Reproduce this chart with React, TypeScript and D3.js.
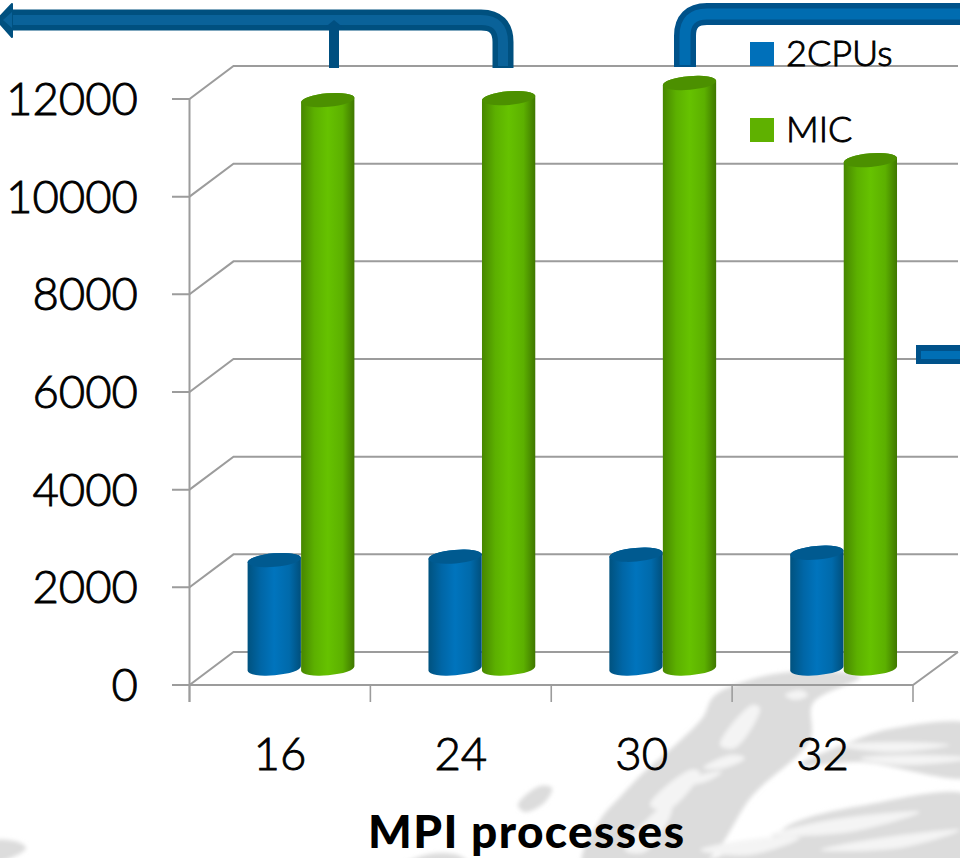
import React from "react";
import * as d3 from "d3";

// Chart values
const categories = ["16", "24", "30", "32"];
const seriesNames = ["2CPUs", "MIC"];
const cpuValues = [2220, 2290, 2330, 2370];
const micValues = [11640, 11680, 11990, 10410];
const yTicks = [0, 2000, 4000, 6000, 8000, 10000, 12000];

const WIDTH = 960;
const HEIGHT = 858;
const FONT = "Lato, 'Open Sans', sans-serif";
const AXIS = "#9c9c9c";

// Oblique offset from the front axes to the back wall
const DEPTH_X = 44;
const DEPTH_Y = -33;

const x = d3.scaleBand<string>().domain(categories).range([189.5, 913]);
const y = d3.scaleLinear().domain([0, 12000]).range([685, 99]);
// Columns stand halfway along the floor depth
const yBar = d3.scaleLinear().domain([0, 12000]).range([668.5, 82.5]);
const inner = d3.scaleBand<string>().domain(seriesNames).range([58, 165]);

const TILT = -5;
const RY = 6.8;

function cylinder(cx: number, rx: number, top: number, bottom: number) {
  const dx = rx * Math.cos((TILT * Math.PI) / 180);
  const dy = rx * Math.sin((TILT * Math.PI) / 180);
  const body = d3.path();
  body.moveTo(cx - dx, top - dy);
  body.lineTo(cx - dx, bottom - dy);
  const arc = `A${rx} ${RY} ${TILT} 0 0 ${cx + dx} ${bottom + dy}`;
  const rest = `L${cx + dx} ${top + dy}A${rx} ${RY} ${TILT} 0 0 ${cx - dx} ${top - dy}Z`;
  return `${body.toString()}${arc}${rest}`;
}

// Faint grey brush-stroke artwork behind the chart
const blob = d3
  .line<[number, number]>()
  .curve(d3.curveCatmullRomClosed.alpha(0.5));

const washShapes: [number, number][][] = [
  [[860, 677], [790, 672], [740, 683], [713, 697], [703, 717], [673, 747], [643, 773], [620, 797], [600, 820], [583, 865], [700, 865], [753, 795], [810, 740], [813, 703]],
  [[975, 727], [890, 729], [850, 742], [800, 765], [860, 762], [975, 775]],
  [[793, 823], [860, 806], [975, 798], [975, 870], [690, 870], [770, 838]],
  [[518, 805], [540, 786], [552, 788], [545, 802], [525, 812]],
  [[-10, 842], [18, 842], [26, 848], [15, 856], [-10, 862]],
  [[400, 866], [430, 854], [460, 856], [470, 866]],
];
const washHighlights: [number, number][][] = [
  [[683, 785], [700, 775], [722, 772], [705, 782]],
  [[703, 768], [730, 755], [745, 758], [725, 768]],
  [[785, 695], [800, 690], [808, 695], [795, 700]],
  [[650, 805], [690, 770], [700, 772], [668, 810]],
  [[625, 850], [665, 805], [672, 808], [645, 852]],
  [[720, 745], [752, 705], [760, 708], [735, 748]],
  [[770, 835], [830, 820], [920, 812], [850, 832]],
  [[835, 745], [900, 742], [950, 745], [890, 752]],
  [[860, 758], [910, 755], [975, 758], [900, 765]],
  [[700, 850], [760, 838], [800, 838], [750, 855]],
  [[820, 850], [880, 838], [960, 830], [900, 848]],
];

const textStyle = { fontWeight: 300, stroke: "#000", strokeWidth: 0.9 };

export default function App() {
  const rx = inner.bandwidth() / 2;
  const values = [cpuValues, micValues];
  const bandX = (c: string) => x(c) as number;

  return (
    <svg
      width={WIDTH}
      height={HEIGHT}
      viewBox={`0 0 ${WIDTH} ${HEIGHT}`}
      style={{ position: "fixed", left: 0, top: 0, background: "#fff" }}
      fontFamily={FONT}
    >
      <defs>
        <linearGradient id="cyl-0" x1="0" x2="1" y1="0" y2="0">
          <stop offset="0" stopColor="#00527f" />
          <stop offset="0.25" stopColor="#0066a6" />
          <stop offset="0.5" stopColor="#0074bd" />
          <stop offset="0.78" stopColor="#006aab" />
          <stop offset="1" stopColor="#004f7c" />
        </linearGradient>
        <linearGradient id="cyl-1" x1="0" x2="1" y1="0" y2="0">
          <stop offset="0" stopColor="#478600" />
          <stop offset="0.25" stopColor="#5cb000" />
          <stop offset="0.5" stopColor="#66c200" />
          <stop offset="0.78" stopColor="#5cb000" />
          <stop offset="1" stopColor="#3f7700" />
        </linearGradient>
        <filter id="soft" x="-10%" y="-10%" width="120%" height="120%">
          <feGaussianBlur stdDeviation="2" />
        </filter>
      </defs>

      <g filter="url(#soft)">
        {washShapes.map((s, i) => (
          <path key={i} d={blob(s) ?? ""} fill="#dcdcdc" />
        ))}
        {washHighlights.map((s, i) => (
          <path key={i} d={blob(s) ?? ""} fill="#f4f4f4" />
        ))}
      </g>

      {/* Gridlines running across the left wall and the back wall */}
      <g fill="none" stroke={AXIS} strokeWidth={2}>
        {yTicks.map((t) => (
          <path
            key={t}
            d={`M172 ${y(t)}H189.5L${189.5 + DEPTH_X} ${y(t) + DEPTH_Y}H958`}
          />
        ))}
        <path d={`M189.5 ${y(12000)}V702`} />
        <path d={`M189.5 ${y(0)}H913L958 ${y(0) + DEPTH_Y}`} />
        {[...categories.map(bandX), x.range()[1]].map((v) => (
          <path key={v} d={`M${v} ${y(0)}V702`} strokeWidth={1.6} />
        ))}
      </g>

      {/* Axis labels */}
      <g fontSize={45.5} fill="#000" textAnchor="end" style={textStyle}>
        {yTicks.map((t) => (
          <text key={t} x={138} y={y(t) + 16}>
            {t}
          </text>
        ))}
      </g>
      <g fontSize={45.5} fill="#000" textAnchor="middle" style={textStyle}>
        {categories.map((c) => (
          <text key={c} x={bandX(c) + x.bandwidth() / 2} y={770}>
            {c}
          </text>
        ))}
      </g>
      <text x={526} y={848} fontSize={46} fontWeight={900} textAnchor="middle" fill="#000" textLength={316} lengthAdjust="spacing">
        MPI processes
      </text>

      {/* Columns, blue first so that the green one overlaps it */}
      {categories.map((c, ci) => (
        <g key={c}>
          {seriesNames.map((s, si) => {
            const cx = bandX(c) + (inner(s) as number) + rx;
            const top = yBar(values[si][ci]);
            const bottom = yBar(0);
            return (
              <g key={s}>
                <path d={cylinder(cx, rx, top, bottom)} fill={`url(#cyl-${si})`} />
                <ellipse
                  cx={cx}
                  cy={top}
                  rx={rx}
                  ry={RY}
                  transform={`rotate(${TILT} ${cx} ${top})`}
                  fill={si === 0 ? "#005a90" : "#4c9000"}
                />
              </g>
            );
          })}
        </g>
      ))}

      {/* Legend */}
      <rect x={750} y={42} width={24} height={24} fill="#0070ba" />
      <text x={786} y={66} fontSize={36} fill="#000" style={textStyle}>{seriesNames[0]}</text>
      <rect x={750} y={118} width={24} height={24} fill="#5fb100" />
      <text x={786} y={142} fontSize={36} fill="#000" style={textStyle}>{seriesNames[1]}</text>

      {/* Callout connectors above and beside the plot */}
      <g fill="none">
        <path d="M503 68V42Q503 20 481 20H8" stroke="#00507f" strokeWidth={21} />
        <path d="M503 66V42Q503 20 481 20H8" stroke="#0a6299" strokeWidth={10} />
        <path d="M334 68V28" stroke="#004f80" strokeWidth={10} />
        <path d="M685 67V36Q685 14 707 14H960" stroke="#00528a" strokeWidth={22} />
        <path d="M685 65V36Q685 14 707 14H960" stroke="#006cb0" strokeWidth={11} />
      </g>
      <path d="M-3 20L12 4V37Z" fill="#00507f" stroke="#00507f" strokeWidth={2} strokeLinejoin="round" />
      <path d="M3 20L12 12V28Z" fill="#0a6299" />
      <path d="M334 20L345 29H323Z" fill="#004f80" />
      <rect x={916} y={345} width={44} height={19} fill="#00528a" />
      <rect x={921} y={351} width={39} height={8} fill="#006fb5" />
    </svg>
  );
}
